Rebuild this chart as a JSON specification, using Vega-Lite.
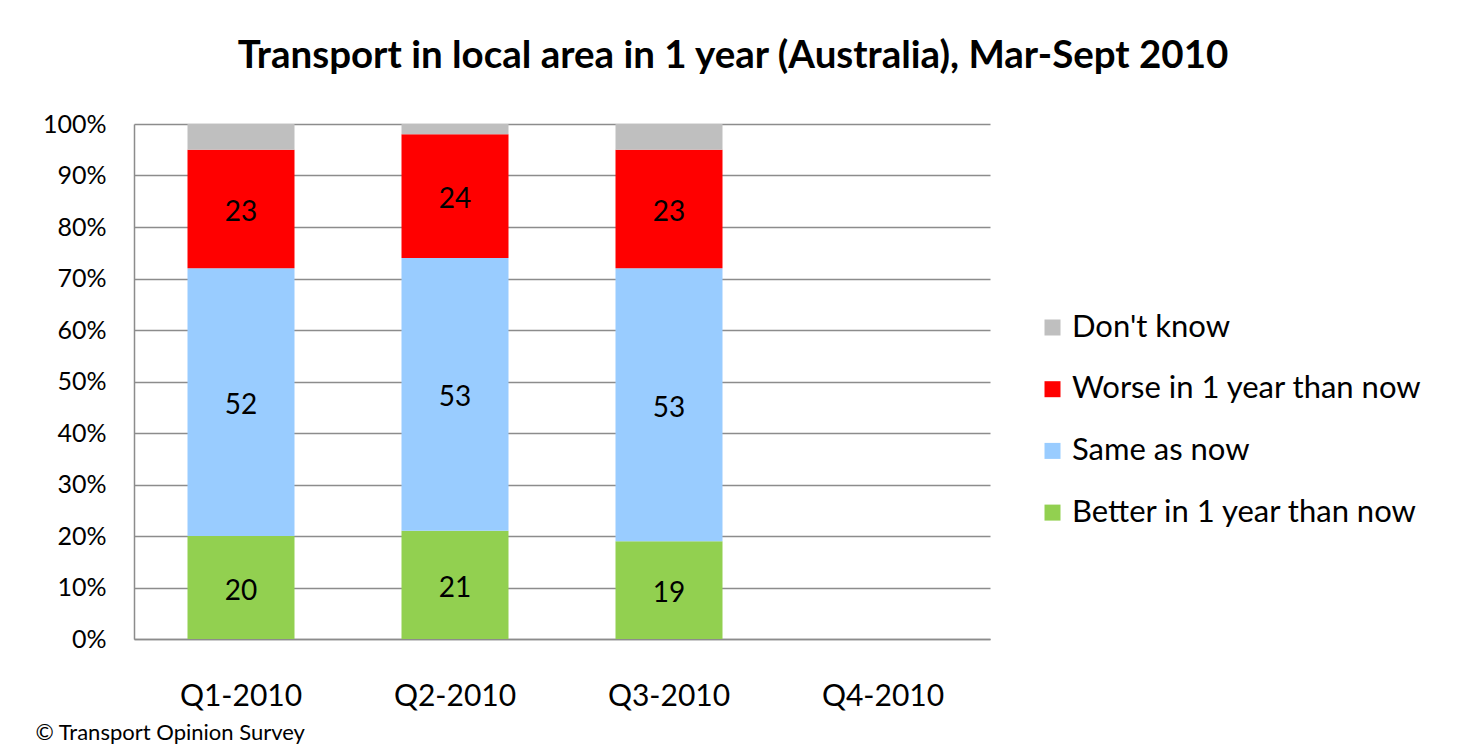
{
  "$schema": "https://vega.github.io/schema/vega-lite/v6.json",
  "width": 856,
  "height": 515,
  "autosize": {"type": "none"},
  "padding": {"left": 134, "top": 124, "right": 470, "bottom": 109},
  "background": "white",
  "config": {"view": {"stroke": null}, "font": "Lato"},
  "title": {
    "text": "Transport in local area in 1 year (Australia), Mar-Sept 2010",
    "fontSize": 38.5,
    "fontWeight": "bold",
    "font": "Lato",
    "color": "black",
    "anchor": "middle",
    "dx": 171,
    "offset": 36
  },
  "data": {
    "values": [
      {"quarter": "Q1-2010", "answer": "Better in 1 year than now", "pct": 20},
      {"quarter": "Q1-2010", "answer": "Same as now", "pct": 52},
      {"quarter": "Q1-2010", "answer": "Worse in 1 year than now", "pct": 23},
      {"quarter": "Q1-2010", "answer": "Don't know", "pct": 5},
      {"quarter": "Q2-2010", "answer": "Better in 1 year than now", "pct": 21},
      {"quarter": "Q2-2010", "answer": "Same as now", "pct": 53},
      {"quarter": "Q2-2010", "answer": "Worse in 1 year than now", "pct": 24},
      {"quarter": "Q2-2010", "answer": "Don't know", "pct": 2},
      {"quarter": "Q3-2010", "answer": "Better in 1 year than now", "pct": 19},
      {"quarter": "Q3-2010", "answer": "Same as now", "pct": 53},
      {"quarter": "Q3-2010", "answer": "Worse in 1 year than now", "pct": 23},
      {"quarter": "Q3-2010", "answer": "Don't know", "pct": 5}
    ]
  },
  "encoding": {
    "x": {
      "field": "quarter",
      "type": "nominal",
      "scale": {"domain": ["Q1-2010", "Q2-2010", "Q3-2010", "Q4-2010"], "paddingInner": 0.5, "paddingOuter": 0.25},
      "axis": {
        "labelAngle": 0,
        "labelFontSize": 30,
        "labelColor": "black",
        "labelPadding": 42,
        "ticks": false,
        "domainColor": "#8c8c8c",
        "domainWidth": 1.5,
        "title": "© Transport Opinion Survey",
        "titleFontSize": 22,
        "titleFontWeight": "normal",
        "titleColor": "black",
        "titleAnchor": "start",
        "titleAlign": "left",
        "titleBaseline": "alphabetic",
        "titleX": -99,
        "titleY": 100
      }
    }
  },
  "layer": [
    {
      "transform": [
        {"calculate": "indexof(['Better in 1 year than now', 'Same as now', 'Worse in 1 year than now', 'Don\\'t know'], datum.answer)", "as": "rank"}
      ],
      "mark": {"type": "bar"},
      "encoding": {
        "y": {
          "field": "pct",
          "type": "quantitative",
          "stack": "zero",
          "scale": {"domain": [0, 100], "nice": false},
          "axis": {
            "title": null,
            "values": [0, 10, 20, 30, 40, 50, 60, 70, 80, 90, 100],
            "labelExpr": "datum.value + '%'",
            "labelFontSize": 25,
            "labelColor": "black",
            "labelPadding": 28,
            "ticks": false,
            "grid": true,
            "gridColor": "#8c8c8c",
            "gridWidth": 1.5,
            "domainColor": "#8c8c8c",
            "domainWidth": 1.5
          }
        },
        "order": {"field": "rank", "type": "quantitative", "sort": "ascending"},
        "color": {
          "field": "answer",
          "type": "nominal",
          "scale": {
            "domain": ["Don't know", "Worse in 1 year than now", "Same as now", "Better in 1 year than now"],
            "range": ["#BFBFBF", "#FF0000", "#99CCFF", "#92D050"]
          },
          "legend": {
            "title": null,
            "orient": "none",
            "legendX": 903,
            "legendY": 188,
            "symbolType": "square",
            "symbolSize": 256,
            "symbolStrokeWidth": 0,
            "symbolOpacity": 1,
            "labelFontSize": 31,
            "labelColor": "black",
            "labelOffset": 4,
            "rowPadding": 29.7,
            "labelLimit": 500
          }
        }
      }
    },
    {
      "transform": [
        {"filter": "datum.answer != \"Don't know\""},
        {"stack": "pct", "groupby": ["quarter"], "sort": [{"field": "answer", "order": "ascending"}], "as": ["y0", "y1"]},
        {"fold": ["y0", "y1"], "as": ["edge", "pos"]},
        {"aggregate": [{"op": "mean", "field": "pos", "as": "mid"}], "groupby": ["quarter", "answer", "pct"]}
      ],
      "mark": {"type": "text", "fontSize": 28, "color": "black", "baseline": "middle", "align": "center", "dy": 4},
      "encoding": {
        "y": {"field": "mid", "type": "quantitative", "stack": null},
        "text": {"field": "pct", "type": "quantitative"}
      }
    }
  ]
}
